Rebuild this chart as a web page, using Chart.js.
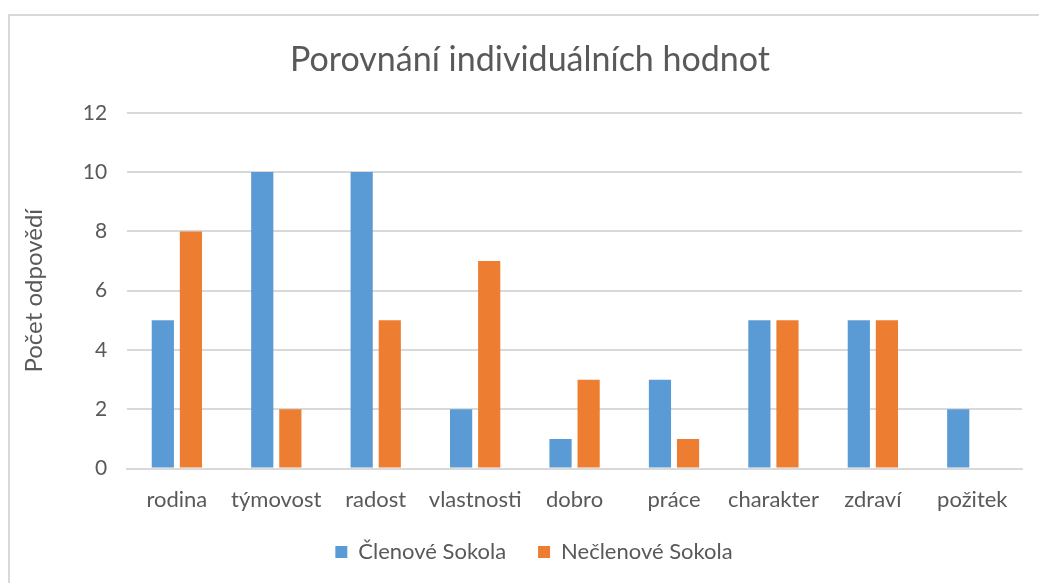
<!DOCTYPE html>
<html>
<head>
<meta charset="utf-8">
<script src="https://cdn.jsdelivr.net/npm/chart.js@4"></script>
<style>
  html, body { margin: 0; padding: 0; background: #fff; }
  #wrap { position: relative; width: 1039px; height: 583px; }
  #frame { position: absolute; left: 8px; top: 14px; width: 1040px; height: 580px;
           border: 2px solid #d9d9d9; pointer-events: none; }
</style>
</head>
<body>
<div id="wrap">
  <canvas id="chart" width="1039" height="583"></canvas>
  <div id="frame"></div>
</div>
<script>
// Data
const categories = ['rodina', 'týmovost', 'radost', 'vlastnosti', 'dobro', 'práce', 'charakter', 'zdraví', 'požitek'];
const clenove = [5, 10, 10, 2, 1, 3, 5, 5, 2];
const neclenove = [8, 2, 5, 7, 3, 1, 5, 5, 0];
const yTicks = [0, 2, 4, 6, 8, 10, 12];

const textColor = '#595959';
const gridColor = '#d9d9d9';
const fontFamily = 'Lato, "Open Sans", sans-serif';

// Excel centres title and legend on the whole frame, not the padded box
const nudgeBoxes = {
    id: 'nudgeBoxes',
    afterLayout: function(chart) {
        chart.legend.left += 13;
        chart.legend.right += 13;
        chart.titleBlock.left += 9;
        chart.titleBlock.right += 9;
    }
};

const ctx = document.getElementById('chart').getContext('2d');
const chart = new Chart(ctx, {
    type: 'bar',
    data: {
        labels: categories,
        datasets: [{
            label: 'Členové Sokola',
            data: clenove,
            backgroundColor: '#5b9bd5',
            barPercentage: 0.79,
            categoryPercentage: 0.565
        }, {
            label: 'Nečlenové Sokola',
            data: neclenove,
            backgroundColor: '#ed7d31',
            barPercentage: 0.79,
            categoryPercentage: 0.565
        }]
    },
    plugins: [nudgeBoxes],
    options: {
        responsive: false,
        animation: false,
        layout: {
            padding: { left: 20, right: 17, top: 0, bottom: 10 }
        },
        plugins: {
            title: {
                display: true,
                text: 'Porovnání individuálních hodnot',
                color: textColor,
                font: { family: fontFamily, size: 34, weight: 'normal' },
                padding: { top: 40, bottom: 32 }
            },
            legend: {
                position: 'bottom',
                labels: {
                    color: textColor,
                    font: { family: fontFamily, size: 22 },
                    boxWidth: 12,
                    boxHeight: 12,
                    padding: 10,
                    generateLabels: function(chart) {
                        const items = Chart.defaults.plugins.legend.labels.generateLabels(chart);
                        // wider gap between the two entries
                        items[0].text = items[0].text + '\u2002\u2002';
                        return items;
                    }
                }
            },
            tooltip: { enabled: false }
        },
        scales: {
            x: {
                grid: { display: false, drawTicks: false },
                border: { display: true, color: gridColor, width: 2 },
                ticks: {
                    color: textColor,
                    font: { family: fontFamily, size: 22 },
                    padding: 18
                }
            },
            y: {
                min: 0,
                max: 12,
                afterBuildTicks: function(scale) {
                    scale.ticks = yTicks.map(function(v) { return { value: v }; });
                },
                grid: { color: gridColor, lineWidth: 2, drawTicks: false },
                border: { display: false },
                ticks: {
                    color: textColor,
                    font: { family: fontFamily, size: 21 },
                    padding: 20
                },
                title: {
                    display: true,
                    text: 'Počet odpovědí',
                    color: textColor,
                    font: { family: fontFamily, size: 24 },
                    padding: { top: 0, bottom: 14 }
                }
            }
        }
    }
});
</script>
</body>
</html>
